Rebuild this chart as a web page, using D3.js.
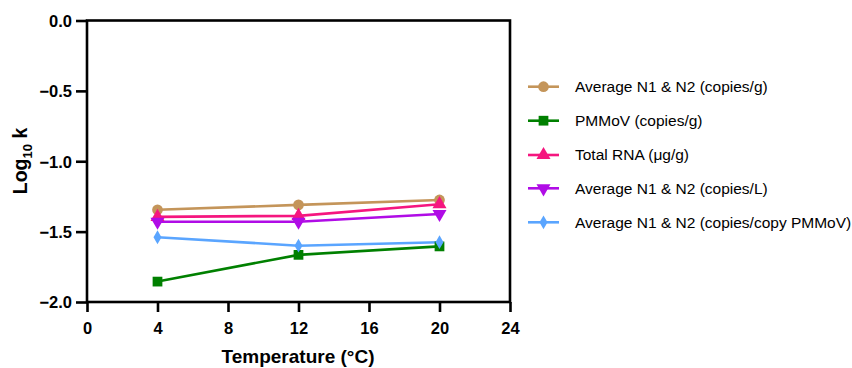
<!DOCTYPE html>
<html><head><meta charset="utf-8">
<script src="https://cdn.jsdelivr.net/npm/d3@7/dist/d3.min.js"></script>
<style>body{margin:0;background:#fff}svg{display:block}</style>
</head><body><svg id="c" width="852" height="368"></svg>
<script>
const temps = [4, 12, 20];
const seriesNames = ["Average N1 & N2 (copies/g)", "PMMoV (copies/g)", "Total RNA (\u03bcg/g)", "Average N1 & N2 (copies/L)", "Average N1 & N2 (copies/copy PMMoV)"];
const avgCopiesG = [-1.345, -1.31, -1.275];
const pmmovG = [-1.855, -1.665, -1.605];
const totalRNA = [-1.395, -1.388, -1.305];
const avgCopiesL = [-1.43, -1.43, -1.375];
const avgPerPMMoV = [-1.54, -1.60, -1.575];
const xTicks = [0, 4, 8, 12, 16, 20, 24];
const yTicks = [0, -0.5, -1.0, -1.5, -2.0];
const colors = ["#c4955a", "#008000", "#f5167f", "#b00ce6", "#5aa5ff"];
const symbols = [d3.symbolCircle, d3.symbolSquare, d3.symbolTriangle, "tri-down", d3.symbolDiamond];
const symSizes = [90, 95, 85, 85, 55];

const series = [avgCopiesG, pmmovG, totalRNA, avgCopiesL, avgPerPMMoV];
const svg = d3.select("#c");
const x = d3.scaleLinear().domain([0, 24]).range([87, 510]);
const y = d3.scaleLinear().domain([-2, 0]).range([302, 20.5]);
const FONT = "'Liberation Sans', Arial, sans-serif";

function symPath(i) {
  if (symbols[i] === "tri-down") return d3.symbol().type(d3.symbolTriangle).size(symSizes[i])();
  return d3.symbol().type(symbols[i]).size(symSizes[i])();
}
function symTransform(i, px, py) {
  return symbols[i] === "tri-down" ? `translate(${px},${py}) rotate(180)` : `translate(${px},${py})`;
}

const line = d3.line().x((d, j) => x(temps[j])).y(d => y(d));
series.forEach((vals, i) => {
  svg.append("path").attr("d", line(vals)).attr("fill", "none")
    .attr("stroke", colors[i]).attr("stroke-width", 2.6);
});
series.forEach((vals, i) => {
  vals.forEach((v, j) => {
    svg.append("path").attr("d", symPath(i)).attr("transform", symTransform(i, x(temps[j]), y(v)))
      .attr("fill", colors[i]);
  });
});

const xAxis = d3.axisBottom(x).tickValues(xTicks).tickSize(10).tickPadding(10).tickFormat(d3.format("d"));
const gx = svg.append("g").attr("transform", "translate(0,302)").call(xAxis);
const yAxis = d3.axisLeft(y).tickValues(yTicks).tickSize(11).tickPadding(4).tickFormat(d3.format(".1f"));
const gy = svg.append("g").attr("transform", "translate(87,0)").call(yAxis);
[gx, gy].forEach(g => {
  g.select(".domain").remove();
  g.selectAll(".tick line").attr("stroke", "#000").attr("stroke-width", 2.6);
  g.selectAll(".tick text").attr("fill", "#000").style("font-family", FONT)
    .style("font-size", "16.5px").style("font-weight", "bold");
});
gy.selectAll(".tick text").attr("dy", "0.36em");
svg.append("rect").attr("x", x(0)).attr("y", y(0)).attr("width", x(24) - x(0)).attr("height", y(-2) - y(0))
  .attr("fill", "none").attr("stroke", "#000").attr("stroke-width", 2.6);

svg.append("text").attr("x", 298).attr("y", 363).attr("text-anchor", "middle")
  .style("font-family", FONT).style("font-size", "19px").style("font-weight", "bold").text("Temperature (\u00b0C)");
const yt = svg.append("text").attr("transform", "translate(27,161) rotate(-90)").attr("text-anchor", "middle")
  .style("font-family", FONT).style("font-size", "19.5px").style("font-weight", "bold");
yt.append("tspan").text("Log");
yt.append("tspan").attr("dy", 5).style("font-size", "13px").text("10");
yt.append("tspan").attr("dy", -5).text(" k");

const legY = [86.7, 120.7, 155, 188.3, 222.3];
seriesNames.forEach((name, i) => {
  const g = svg.append("g");
  g.append("line").attr("x1", 528).attr("x2", 559).attr("y1", legY[i]).attr("y2", legY[i])
    .attr("stroke", colors[i]).attr("stroke-width", 2.6);
  g.append("path").attr("d", symPath(i)).attr("transform", symTransform(i, 543.5, legY[i])).attr("fill", colors[i]);
  g.append("text").attr("x", 575).attr("y", legY[i]).attr("dy", "0.35em")
    .style("font-family", FONT).style("font-size", "15.5px").attr("fill", "#000").text(name);
});
</script></body></html>
